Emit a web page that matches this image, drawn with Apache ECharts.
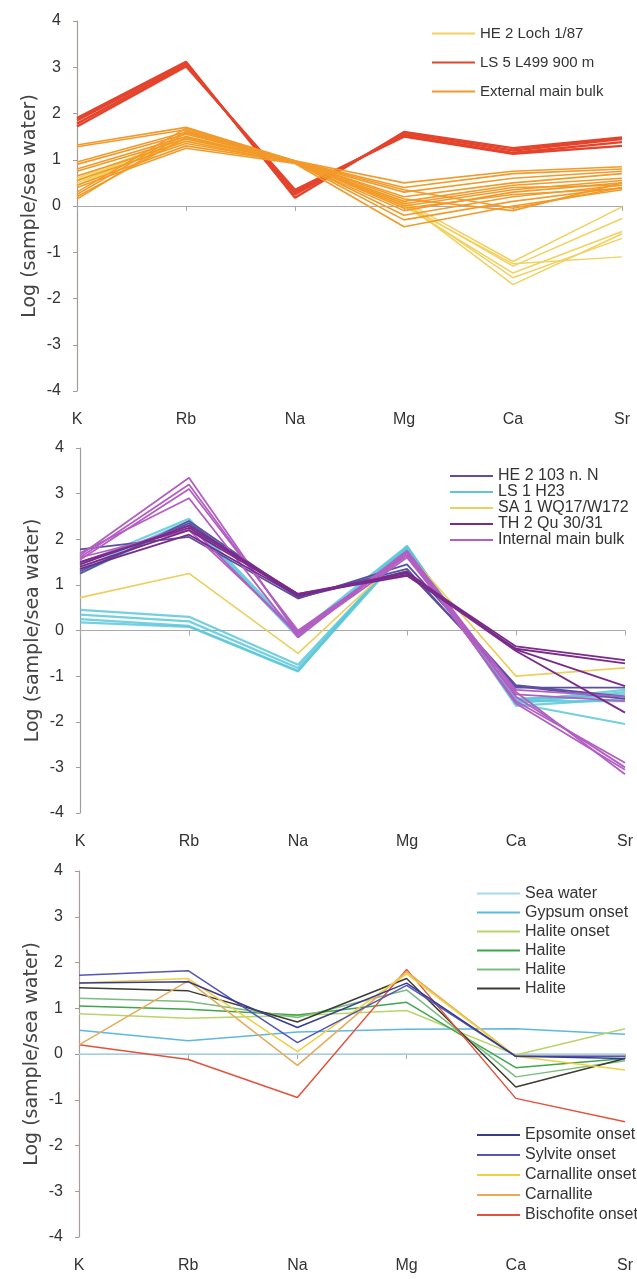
<!DOCTYPE html>
<html>
<head>
<meta charset="utf-8">
<title>Log (sample/sea water) profiles</title>
<script src="https://cdn.jsdelivr.net/npm/echarts@6/dist/echarts.min.js"></script>
<style>
  html, body { margin: 0; padding: 0; background: #fff; }
  #chart { width: 637px; height: 1279px; }
</style>
</head>
<body>
<div id="chart"></div>
<script>
// Element order along the x axis
const elements = ['K', 'Rb', 'Na', 'Mg', 'Ca', 'Sr'];

// ---- Panel 1: external samples ----
const heLoch = [
  [0.60, 1.50, 0.97, 0.10, -1.20, -0.02],
  [0.55, 1.45, 0.95, 0.05, -1.30, -0.27],
  [0.50, 1.40, 0.95, 0.00, -1.45, -0.55],
  [0.45, 1.45, 0.93, 0.05, -1.55, -0.70],
  [0.55, 1.50, 0.96, 0.08, -1.70, -0.60],
  [0.50, 1.40, 0.95, 0.02, -1.25, -1.10]
];
const ls5 = [
  [1.90, 3.12, 0.18, 1.60, 1.25, 1.48],
  [1.85, 3.08, 0.25, 1.57, 1.20, 1.45],
  [1.78, 3.05, 0.30, 1.53, 1.15, 1.38],
  [1.72, 3.02, 0.35, 1.50, 1.13, 1.30]
];
const externalBulk = [
  [1.32, 1.70, 0.98, 0.50, 0.75, 0.85],
  [1.28, 1.65, 0.97, 0.40, 0.70, 0.80],
  [0.95, 1.60, 0.95, 0.30, 0.60, 0.75],
  [0.90, 1.55, 0.96, 0.20, 0.50, 0.70],
  [0.80, 1.50, 0.94, 0.10, 0.45, 0.60],
  [0.75, 1.45, 0.95, 0.00, 0.35, 0.55],
  [0.65, 1.40, 0.93, -0.10, 0.30, 0.50],
  [0.55, 1.35, 0.95, -0.20, 0.20, 0.45],
  [0.45, 1.30, 0.94, -0.30, 0.10, 0.40],
  [0.40, 1.25, 0.92, -0.45, 0.00, 0.35],
  [0.30, 1.68, 0.96, 0.35, -0.05, 0.40],
  [0.25, 1.62, 0.97, 0.15, -0.10, 0.50],
  [0.20, 1.48, 0.95, 0.05, 0.40, 0.45],
  [0.15, 1.58, 0.96, -0.05, 0.25, 0.38]
];

// ---- Panel 2: internal samples ----
const he2 = [
  [1.78, 2.05, 0.70, 1.45, -1.20, -1.45],
  [1.30, 2.35, 0.72, 1.30, -1.22, -1.50],
  [1.25, 2.40, 0.75, 1.35, -1.25, -1.25]
];
const ls1 = [
  [1.45, 2.45, -0.05, 1.85, -1.55, -1.30],
  [1.35, 2.40, -0.10, 1.80, -1.60, -2.05],
  [1.25, 2.35, -0.15, 1.82, -1.50, -1.40],
  [0.45, 0.30, -0.75, 1.80, -1.50, -1.45],
  [0.35, 0.20, -0.82, 1.82, -1.55, -1.55],
  [0.25, 0.10, -0.88, 1.78, -1.60, -1.35],
  [0.18, 0.08, -0.90, 1.85, -1.65, -1.50]
];
const sa1 = [
  [0.72, 1.25, -0.50, 1.72, -1.00, -0.82]
];
const th2 = [
  [1.45, 2.30, 0.80, 1.25, -0.35, -0.65],
  [1.40, 2.20, 0.78, 1.20, -0.40, -0.72],
  [1.35, 2.10, 0.75, 1.28, -0.42, -1.22],
  [1.50, 2.25, 0.80, 1.22, -0.45, -1.80]
];
const internalBulk = [
  [1.65, 3.35, -0.10, 1.75, -1.35, -3.15],
  [1.60, 3.20, -0.05, 1.70, -1.45, -3.00],
  [1.55, 3.10, 0.00, 1.65, -1.55, -2.90],
  [1.70, 2.90, -0.15, 1.72, -1.60, -3.05],
  [1.50, 2.30, -0.10, 1.60, -1.40, -1.55],
  [1.60, 2.20, -0.05, 1.65, -1.30, -1.45]
];

// ---- Panel 3: evaporation path of sea water ----
const seaWater        = [0.00, 0.00, 0.00, 0.00, 0.00, 0.00];
const gypsumOnset     = [0.52, 0.29, 0.48, 0.54, 0.55, 0.43];
const haliteOnset     = [0.88, 0.78, 0.84, 0.95, -0.02, 0.55];
const haliteA         = [1.05, 0.98, 0.85, 1.13, -0.30, -0.10];
const haliteB         = [1.22, 1.15, 0.80, 1.40, -0.50, -0.15];
const haliteC         = [1.45, 1.38, 0.70, 1.65, -0.72, -0.10];
const epsomiteOnset   = [1.55, 1.58, 0.58, 1.55, -0.05, -0.10];
const sylviteOnset    = [1.72, 1.82, 0.25, 1.50, -0.05, -0.05];
const carnalliteOnset = [1.55, 1.65, 0.05, 1.75, -0.05, -0.35];
const carnallite      = [0.20, 1.60, -0.25, 1.80, -0.05, -0.05];
const bischofiteOnset = [0.20, -0.12, -0.95, 1.85, -0.97, -1.48];

const TEXT = '"Liberation Sans", Arial, sans-serif';
const AXIS_GREY = '#a39c97';

const grids = [
  { left: 77, width: 545, top: 21, height: 370 },
  { left: 80, width: 545, top: 448, height: 365 },
  { left: 79, width: 546, top: 871, height: 366 }
];

const xAxes = [];
const yAxes = [];
grids.forEach((g, i) => {
  // category labels along the bottom of each panel
  xAxes.push({
    type: 'category', gridIndex: i, data: elements, boundaryGap: false,
    position: 'bottom',
    axisLine: { show: false, onZero: false },
    axisTick: { show: false },
    axisLabel: { margin: 21, fontSize: 16, color: '#333', fontFamily: TEXT },
    splitLine: { show: false }
  });
  // zero reference line with element ticks
  xAxes.push({
    type: 'category', gridIndex: i, data: elements, boundaryGap: false,
    position: 'bottom',
    axisLine: { show: true, onZero: true, lineStyle: { color: '#a8a8b0', width: 1.2 } },
    axisTick: { show: true, length: 5, lineStyle: { color: '#a8a8b0' } },
    axisLabel: { show: false },
    splitLine: { show: false }
  });
  yAxes.push({
    type: 'value', gridIndex: i, min: -4, max: 4, interval: 1,
    name: 'Log (sample/sea water)', nameLocation: 'middle', nameGap: 37,
    nameMoveOverlap: false,
    nameTextStyle: { fontSize: 19, color: '#444', fontFamily: '"DejaVu Sans", Verdana, sans-serif' },
    axisLine: { show: true, lineStyle: { color: AXIS_GREY, width: 1.2 } },
    axisTick: { show: true, length: 4, lineStyle: { color: AXIS_GREY } },
    axisLabel: { margin: 16, fontSize: 16, color: '#333', fontFamily: TEXT },
    splitLine: { show: false }
  });
});

const series = [];
function addLines(name, rows, color, panel, width, extra) {
  rows.forEach(row => {
    series.push(Object.assign({
      type: 'line', name: name, data: row,
      xAxisIndex: panel * 2, yAxisIndex: panel,
      symbol: 'none', silent: true, animation: false,
      lineStyle: { color: color, width: width },
      itemStyle: { color: color }
    }, extra || {}));
  });
}

// panel 1 (drawing order: yellow, red, orange)
addLines('HE 2 Loch 1/87', heLoch, '#f1d160', 0, 1.5);
addLines('LS 5 L499 900 m', ls5, '#e4432c', 0, 2.4);
addLines('External main bulk', externalBulk, '#f29a2a', 0, 1.6);

// panel 2
addLines('LS 1 H23', ls1, '#5cc7d8', 1, 2.2, { lineStyle: { color: '#5cc7d8', width: 2.2, opacity: 0.85 } });
addLines('SA 1 WQ17/W172', sa1, '#eccf5c', 1, 1.6);
addLines('HE 2 103 n. N', he2, '#5b509f', 1, 1.8);
addLines('Internal main bulk', internalBulk, '#b35ec3', 1, 1.8);
addLines('TH 2 Qu 30/31', th2, '#7a2a8a', 1, 1.8);

// panel 3
addLines('Sea water', [seaWater], '#a9d8ee', 2, 1.5);
addLines('Gypsum onset', [gypsumOnset], '#5cb9de', 2, 1.5);
addLines('Halite onset', [haliteOnset], '#b8d46a', 2, 1.5);
addLines('Halite', [haliteA], '#40a64c', 2, 1.5);
addLines('Halite ', [haliteB], '#7cbc7e', 2, 1.5);
addLines('Halite  ', [haliteC], '#3c3c30', 2, 1.5);
addLines('Bischofite onset', [bischofiteOnset], '#e4513a', 2, 1.5);
addLines('Carnallite', [carnallite], '#e8aa58', 2, 1.5);
addLines('Carnallite onset', [carnalliteOnset], '#f0d040', 2, 1.5);
addLines('Sylvite onset', [sylviteOnset], '#5555b8', 2, 1.5);
addLines('Epsomite onset', [epsomiteOnset], '#383c8c', 2, 1.5);

// vertical legend with a short line swatch per entry; rowHeight sets the pitch
function legendBox(names, left, top, rowHeight, fontSize) {
  return {
    data: names, orient: 'vertical', left: left, top: top,
    icon: 'rect', itemWidth: 43, itemHeight: 2, itemGap: 0,
    selectedMode: false, padding: 0,
    textStyle: { fontSize: fontSize, lineHeight: rowHeight, color: '#333', fontFamily: TEXT }
  };
}

const option = {
  backgroundColor: '#ffffff',
  animation: false,
  grid: grids,
  xAxis: xAxes,
  yAxis: yAxes,
  legend: [
    legendBox(['HE 2 Loch 1/87', 'LS 5 L499 900 m', 'External main bulk'], 432, 19, 29, 15),
    legendBox(['HE 2 103 n. N', 'LS 1 H23', 'SA 1 WQ17/W172', 'TH 2 Qu 30/31', 'Internal main bulk'], 450, 468, 15, 16),
    legendBox(['Sea water', 'Gypsum onset', 'Halite onset', 'Halite', 'Halite ', 'Halite  '], 477, 884, 19, 16),
    legendBox(['Epsomite onset', 'Sylvite onset', 'Carnallite onset', 'Carnallite', 'Bischofite onset'], 477, 1125, 20, 16)
  ],
  series: series
};

const chart = echarts.init(document.getElementById('chart'), null, { renderer: 'canvas' });
chart.setOption(option);
</script>
</body>
</html>
